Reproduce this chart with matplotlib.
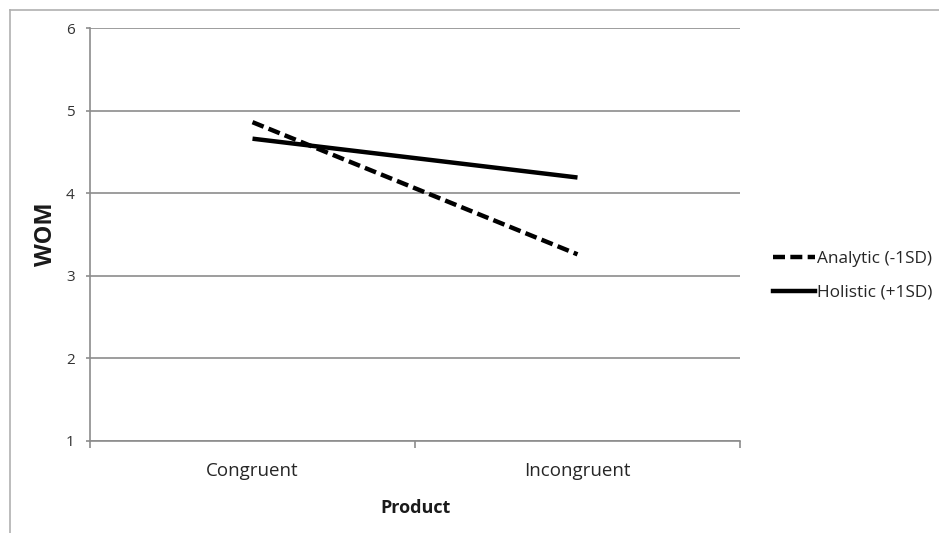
import matplotlib
matplotlib.use("Agg")
import matplotlib.pyplot as plt
from matplotlib.lines import Line2D

categories = ["Congruent", "Incongruent"]
analytic = [4.86, 3.26]
holistic = [4.66, 4.19]
series_labels = ["Analytic (-1SD)", "Holistic (+1SD)"]
y_ticks = [1, 2, 3, 4, 5, 6]

plt.rcParams['font.family'] = ['Open Sans', 'DejaVu Sans']

W, H = 939, 533
fig = plt.figure(figsize=(W / 100, H / 100), dpi=100)
ax = fig.add_axes([90 / W, 1 - 441 / H, 650 / W, 413 / H])

dash = (0, (2.7, 1.2))
x = [0, 1]
ax.plot(x, analytic, color='black', lw=3.2, linestyle=dash, label=series_labels[0], solid_capstyle='butt')
ax.plot(x, holistic, color='black', lw=3.2, linestyle='-', label=series_labels[1], solid_capstyle='butt')

ax.set_xlim(-0.5, 1.5)
ax.set_ylim(1, 6)
ax.set_yticks(y_ticks)
ax.set_yticklabels([str(v) for v in y_ticks])
ax.yaxis.grid(True, color='#8c8c8c', lw=1.2)
ax.set_axisbelow(True)

# category labels centered, tick marks between categories
ax.set_xticks([-0.5, 0.5, 1.5])
ax.set_xticklabels([])
ax.set_xticks(x, minor=True)
ax.set_xticklabels(categories, minor=True)
ax.tick_params(axis='x', which='minor', length=0, pad=15, labelsize=13.5, colors='#262626')
ax.tick_params(axis='x', which='major', length=5, width=1.2, color='#8c8c8c', direction='out')
ax.tick_params(axis='y', length=3, width=1.2, color='#8c8c8c', labelsize=11, pad=8, labelcolor='#333333')

for s in ['top', 'right']:
    ax.spines[s].set_visible(False)
for s in ['left', 'bottom']:
    ax.spines[s].set_color('#8c8c8c')
    ax.spines[s].set_linewidth(1.2)

ax.set_ylabel("WOM", fontsize=17, fontweight='bold', labelpad=6, color='#1a1a1a')
ax.set_xlabel("Product", fontsize=13, fontweight='bold', labelpad=14, color='#1a1a1a')

leg = fig.legend(handles=[Line2D([], [], color='black', lw=3.2, linestyle=dash),
                          Line2D([], [], color='black', lw=3.2)],
                 labels=series_labels, loc='center left', bbox_to_anchor=(766 / W, 1 - 276 / H),
                 frameon=False, fontsize=12.4, handlelength=2.45, handletextpad=0.12,
                 labelspacing=1.0, borderaxespad=0)
for t in leg.get_texts():
    t.set_color('#262626')

# outer border lines (top and left)
fig.add_artist(Line2D([10 / W, 1], [1 - 10 / H, 1 - 10 / H], color='#b0b0b0', lw=1.2))
fig.add_artist(Line2D([10 / W, 10 / W], [0, 1 - 10 / H], color='#b0b0b0', lw=1.2))

fig.savefig("out.png", dpi=100)
